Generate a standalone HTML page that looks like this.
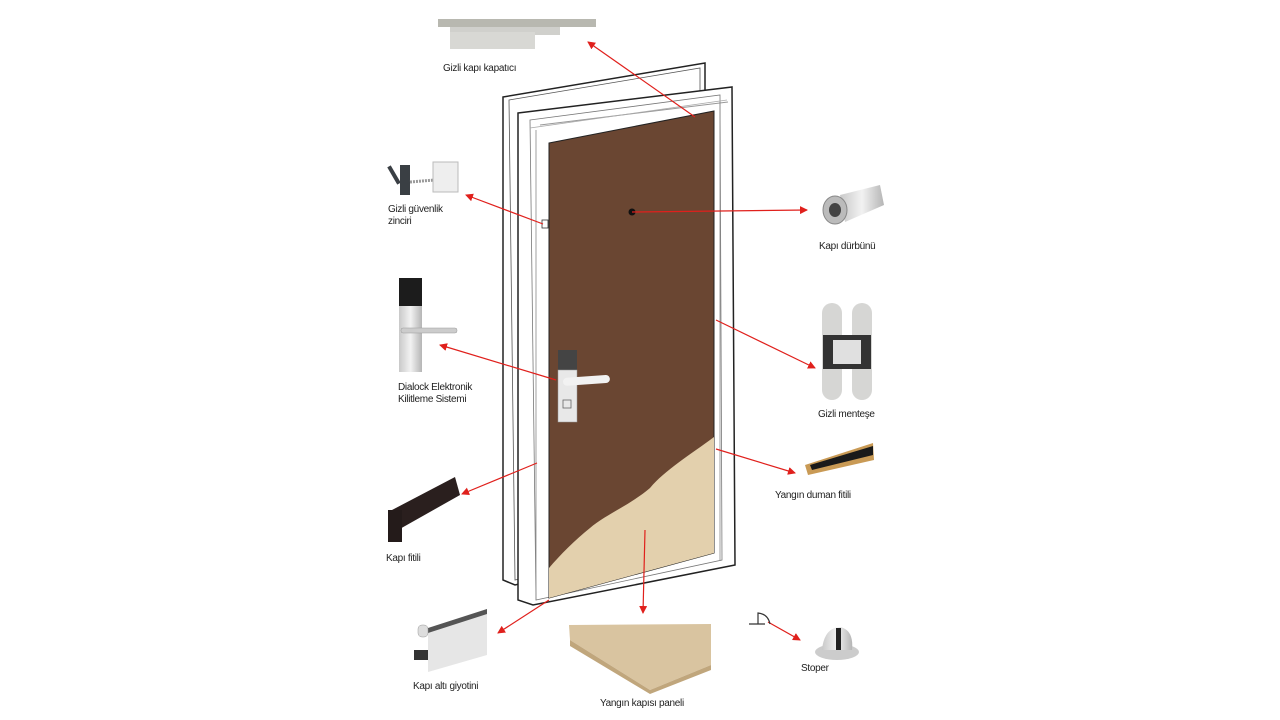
<!DOCTYPE html>
<html><head><meta charset="utf-8"><style>
html,body{margin:0;padding:0;background:#fff;}
svg{display:block;}
text{font-family:"Liberation Sans",sans-serif;font-size:10px;fill:#222;letter-spacing:-0.3px;}
</style></head><body>
<svg width="1280" height="720" viewBox="0 0 1280 720" xmlns="http://www.w3.org/2000/svg">
<defs>
<marker id="ar" markerWidth="8" markerHeight="8" refX="7" refY="4" orient="auto" markerUnits="userSpaceOnUse">
<path d="M0,0 L8,4 L0,8 z" fill="#e0201c"/></marker>
<linearGradient id="met" x1="0" y1="0" x2="1" y2="0"><stop offset="0" stop-color="#c9c9c9"/><stop offset="0.5" stop-color="#f2f2f2"/><stop offset="1" stop-color="#b5b5b5"/></linearGradient>
</defs>
<!-- back frame -->
<polygon points="503,97 705,63 705,540 515,585 503,580" fill="#fff" stroke="#222" stroke-width="1.5"/>
<polygon points="509,100 700,68 700,540 515,580" fill="none" stroke="#555" stroke-width="0.8"/>
<!-- front frame -->
<polygon points="518,113 732,87 735,565 533,605 518,600" fill="#fff" stroke="#222" stroke-width="1.5"/>
<polygon points="530,120 720,95 722,560 536,600" fill="none" stroke="#777" stroke-width="0.8"/>
<polygon points="540,125 728,102" fill="none" stroke="#999"/>
<line x1="530" y1="128" x2="727" y2="100" stroke="#aaa" stroke-width="0.8"/>
<line x1="536" y1="130" x2="536" y2="600" stroke="#888" stroke-width="0.8"/>
<line x1="720" y1="102" x2="720" y2="560" stroke="#888" stroke-width="0.8"/>
<!-- door leaf -->
<polygon points="549,143 714,111 714,553 549,598" fill="#6a4632" stroke="#222" stroke-width="1"/>
<path d="M549,568 C560,555 575,540 590,528 C605,515 630,505 650,488 C665,470 690,455 714,437 L714,553 L549,598 Z" fill="#e3d0ad"/>
<!-- peephole -->
<circle cx="632" cy="212" r="3.5" fill="#111"/>
<!-- chain small -->
<rect x="542" y="220" width="6" height="8" fill="#fff" stroke="#333" stroke-width="0.8"/>
<!-- lock on door -->
<rect x="558" y="350" width="19" height="20" fill="#444"/>
<rect x="558" y="370" width="19" height="52" fill="#e8e8e8" stroke="#999" stroke-width="0.5"/>
<rect x="563" y="400" width="8" height="8" fill="none" stroke="#666" stroke-width="0.8"/>
<rect x="563" y="378" width="47" height="8" rx="4" fill="#f2f2f2" transform="rotate(-4 563 382)"/>

<!-- arrows -->
<g stroke="#e0201c" stroke-width="1.2" marker-end="url(#ar)">
<line x1="695" y1="117" x2="588" y2="42"/>
<line x1="543" y1="224" x2="466" y2="195"/>
<line x1="632" y1="212" x2="807" y2="210"/>
<line x1="556" y1="380" x2="440" y2="345"/>
<line x1="716" y1="320" x2="815" y2="368"/>
<line x1="716" y1="449" x2="795" y2="473"/>
<line x1="537" y1="463" x2="462" y2="494"/>
<line x1="549" y1="600" x2="498" y2="633"/>
<line x1="645" y1="530" x2="643" y2="613"/>
<line x1="768" y1="622" x2="800" y2="640"/>
</g>

<!-- closer -->
<rect x="438" y="19" width="158" height="8" fill="#b8b8b0"/>
<rect x="450" y="27" width="110" height="8" fill="#d0d0cc"/>
<rect x="450" y="32" width="85" height="17" fill="#d8d8d4"/>
<text x="443" y="71">Gizli kapı kapatıcı</text>

<!-- chain -->
<rect x="392" y="165" width="4" height="20" fill="#3a3f44" transform="rotate(-30 394 175)"/>
<rect x="400" y="165" width="10" height="30" fill="#3a3f44"/>
<line x1="410" y1="182" x2="435" y2="180" stroke="#999" stroke-width="3" stroke-dasharray="2,1"/>
<rect x="433" y="162" width="25" height="30" fill="#eee" stroke="#bbb"/>
<text x="388" y="212">Gizli güvenlik</text>
<text x="388" y="224">zinciri</text>

<!-- dialock -->
<rect x="399" y="278" width="23" height="28" fill="#1c1c1c"/>
<rect x="399" y="306" width="23" height="66" fill="url(#met)"/>
<rect x="401" y="328" width="56" height="5" rx="2" fill="#ccc" stroke="#999" stroke-width="0.5"/>
<text x="398" y="390">Dialock Elektronik</text>
<text x="398" y="402">Kilitleme Sistemi</text>

<!-- door seal -->
<polygon points="392,510 455,477 460,495 398,530" fill="#2a1f1e"/>
<rect x="388" y="510" width="14" height="32" fill="#241b1a"/>
<text x="386" y="561">Kapı fitili</text>

<!-- peephole product -->
<polygon points="840,195 880,185 884,205 845,222" fill="url(#met)"/>
<ellipse cx="835" cy="210" rx="12" ry="14" fill="#bbb" stroke="#888"/>
<ellipse cx="835" cy="210" rx="6" ry="7" fill="#444"/>
<text x="819" y="249">Kapı dürbünü</text>

<!-- hinge -->
<rect x="822" y="303" width="20" height="97" rx="10" fill="#d6d6d4"/>
<rect x="852" y="303" width="20" height="97" rx="10" fill="#d6d6d4"/>
<rect x="823" y="335" width="48" height="34" fill="#333"/>
<rect x="833" y="340" width="28" height="24" fill="#e0e0e0"/>
<text x="818" y="417">Gizli menteşe</text>

<!-- fire strip -->
<polygon points="805,465 873,443 874,460 808,475" fill="#c99a55"/>
<polygon points="810,465 873,446 873,455 812,470" fill="#1a1a1a"/>
<text x="775" y="498">Yangın duman fitili</text>

<!-- bottom guillotine -->
<polygon points="428,628 487,609 487,655 428,672" fill="#e6e6e6"/>
<polygon points="428,628 487,609 487,614 428,633" fill="#555"/>
<rect x="418" y="625" width="10" height="12" rx="4" fill="#ddd" stroke="#999" stroke-width="0.5"/>
<rect x="414" y="650" width="14" height="10" fill="#333"/>
<text x="413" y="689">Kapı altı giyotini</text>

<!-- panel -->
<polygon points="569,625 711,624 711,665 650,690 570,640" fill="#d9c4a0"/>
<polygon points="570,640 650,690 711,665 711,670 650,694 570,646" fill="#c0a67c"/>
<text x="600" y="706">Yangın kapısı paneli</text>

<!-- stopper -->
<path d="M749,624 L765,624 M758,624 L758,613 Q768,614 770,624" fill="none" stroke="#333" stroke-width="1.2"/>
<ellipse cx="837" cy="652" rx="22" ry="8" fill="#ccc"/>
<path d="M822,650 Q824,628 840,627 Q854,630 852,650 Z" fill="url(#met)"/>
<rect x="836" y="628" width="5" height="22" fill="#222"/>
<text x="801" y="671">Stoper</text>
</svg>
</body></html>
